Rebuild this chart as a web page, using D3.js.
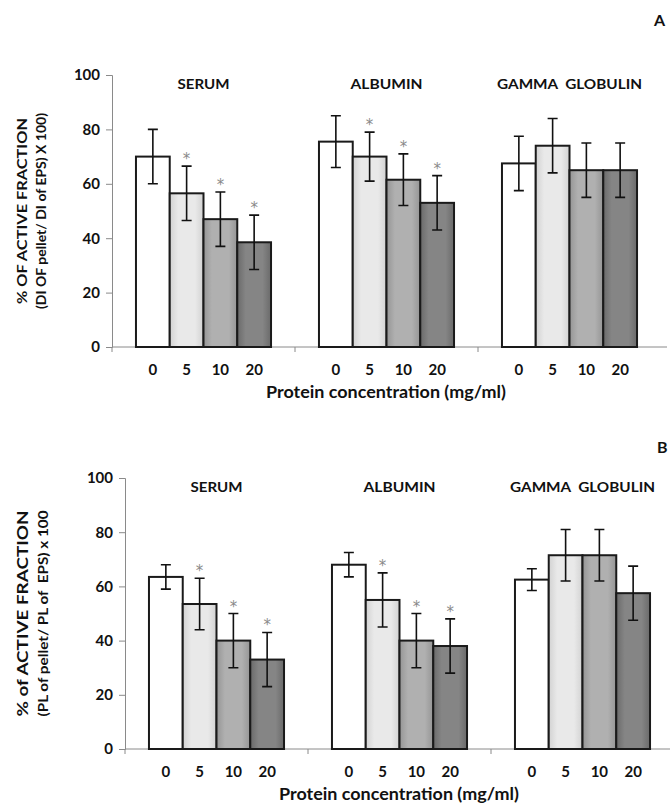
<!DOCTYPE html>
<html>
<head>
<meta charset="utf-8">
<script src="https://cdn.jsdelivr.net/npm/d3@7"></script>
<style>
  body { margin: 0; background: #fff; }
  text { font-family: Lato, "Open Sans", sans-serif; font-weight: bold; fill: #111; white-space: pre; }
</style>
</head>
<body>
<script>
const groups = ["SERUM", "ALBUMIN", "GAMMA  GLOBULIN"];
const concs = ["0", "5", "10", "20"];
const yTicks = [0, 20, 40, 60, 80, 100];
const barFills = ["#ffffff", "url(#g5)", "url(#g10)", "url(#g20)"];
const titleLen = [52, 72, 145];

// panel A - DI
const meansA = [[70, 56.5, 47, 38.5], [75.5, 70, 61.5, 53], [67.5, 74, 65, 65]];
const errA = [[10, 10, 10, 10], [9.5, 9, 9.5, 10], [10, 10, 10, 10]];
const starsA = [[0, 1, 1, 1], [0, 1, 1, 1], [0, 0, 0, 0]];

// panel B - PL
const meansB = [[63.5, 53.5, 40, 33], [68, 55, 40, 38], [62.5, 71.5, 71.5, 57.5]];
const errB = [[4.5, 9.5, 10, 10], [4.5, 10, 10, 10], [4, 9.5, 9.5, 10]];
const starsB = [[0, 1, 1, 1], [0, 1, 1, 1], [0, 0, 0, 0]];

const svg = d3.select("body").append("svg")
    .attr("width", 670)
    .attr("height", 804);

// bar shading
const defs = svg.append("defs");
[["g5", "#d2d2d2", "#e9e9e9"], ["g10", "#959595", "#b0b0b0"], ["g20", "#6a6a6a", "#858585"]].forEach(g => {
    const lg = defs.append("linearGradient").attr("id", g[0]).attr("x1", 0).attr("x2", 1);
    lg.append("stop").attr("offset", "0%").attr("stop-color", g[1]);
    lg.append("stop").attr("offset", "25%").attr("stop-color", g[2]);
    lg.append("stop").attr("offset", "75%").attr("stop-color", g[2]);
    lg.append("stop").attr("offset", "100%").attr("stop-color", g[1]);
});

function drawPanel(p) {
    const x0 = d3.scaleBand().domain(groups).range([p.left, p.left + 549]);
    const x1 = d3.scaleBand().domain(concs).range([0, x0.bandwidth()]).paddingOuter(0.71);
    const y = d3.scaleLinear().domain([0, 100]).range([p.bottom, p.top]);

    const g = svg.append("g");

    // y axis
    const ya = g.append("g").attr("transform", `translate(${p.left},0)`)
        .call(d3.axisLeft(y).tickValues(yTicks).tickSize(6).tickPadding(6));
    ya.selectAll("path, line").attr("stroke", "#8a8a8a");
    ya.selectAll("text").style("font-size", "15px");

    // group ticks on x axis
    const xa = g.append("g").attr("transform", `translate(0,${p.bottom})`);
    xa.append("line").attr("x1", p.left).attr("x2", p.left + 555)
        .attr("stroke", "#8a8a8a");
    xa.selectAll(".gt").data(groups).join("line")
        .attr("x1", d => x0(d)).attr("x2", d => x0(d))
        .attr("y1", 0).attr("y2", 5).attr("stroke", "#8a8a8a");

    groups.forEach((grp, gi) => {
        const gx = x0(grp);
        const rows = concs.map((c, i) => ({ c, i, v: p.means[gi][i], e: p.err[gi][i], s: p.stars[gi][i] }));

        g.selectAll(null).data(rows).join("rect")
            .attr("x", d => gx + x1(d.c))
            .attr("y", d => y(d.v))
            .attr("width", x1.bandwidth())
            .attr("height", d => y(0) - y(d.v))
            .attr("fill", d => barFills[d.i])
            .attr("stroke", "#1a1a1a")
            .attr("stroke-width", 2);

        const cx = d => gx + x1(d.c) + x1.bandwidth() / 2;
        g.selectAll(null).data(rows).join("path")
            .attr("d", d => `M${cx(d)},${y(d.v + d.e)}V${y(d.v - d.e)}` +
                `M${cx(d) - 5},${y(d.v + d.e)}h10M${cx(d) - 5},${y(d.v - d.e)}h10`)
            .attr("stroke", "#111").attr("stroke-width", 1.6).attr("fill", "none");

        // significance marks
        g.selectAll(null).data(rows.filter(d => d.s)).join("text")
            .attr("x", cx)
            .attr("y", d => y(d.v + d.e) - 2)
            .attr("text-anchor", "middle")
            .style("font-family", "'DejaVu Sans', sans-serif")
            .style("font-weight", "normal")
            .style("font-size", "15px")
            .style("fill", "#8a8a8a")
            .text("*");

        g.selectAll(null).data(concs).join("text")
            .attr("x", c => gx + x1(c) + x1.bandwidth() / 2)
            .attr("y", p.bottom + 28)
            .attr("text-anchor", "middle")
            .style("font-size", "15px")
            .text(c => c);

        g.append("text")
            .attr("x", gx + x0.bandwidth() / 2)
            .attr("y", p.top + 14)
            .attr("text-anchor", "middle")
            .attr("textLength", titleLen[gi])
            .attr("lengthAdjust", "spacingAndGlyphs")
            .style("font-size", "14px")
            .text(grp);
    });

    g.append("text")
        .attr("x", p.left + 274)
        .attr("y", p.bottom + 51)
        .attr("text-anchor", "middle")
        .attr("textLength", 240)
        .attr("lengthAdjust", "spacingAndGlyphs")
        .style("font-size", "17px")
        .text("Protein concentration (mg/ml)");

    const mid = (p.top + p.bottom) / 2;
    p.ytitle.forEach((t, i) => {
        g.append("text")
            .attr("transform", `translate(${p.ytx[i]},${mid}) rotate(-90)`)
            .attr("text-anchor", "middle")
            .attr("dy", "0.35em")
            .attr("textLength", p.ytlen[i])
            .attr("lengthAdjust", "spacingAndGlyphs")
            .style("font-size", p.ytsize[i] + "px")
            .text(t);
    });

    g.append("text")
        .attr("x", p.letterX).attr("y", p.letterY)
        .style("font-size", "16px")
        .text(p.letter);
}

drawPanel({
    left: 112, top: 75, bottom: 347,
    means: meansA, err: errA, stars: starsA,
    ytitle: ["% OF ACTIVE FRACTION", "(DI OF pellet/ DI of EPS) X 100)"],
    ytx: [22, 42], ytlen: [186, 196], ytsize: [14, 12.5],
    letter: "A", letterX: 654, letterY: 26
});

drawPanel({
    left: 125, top: 478, bottom: 749,
    means: meansB, err: errB, stars: starsB,
    ytitle: ["% of ACTIVE FRACTION", "(PL of pellet/ PL of  EPS) x 100"],
    ytx: [23, 43], ytlen: [206, 206], ytsize: [15, 14],
    letter: "B", letterX: 657, letterY: 453
});
</script>
</body>
</html>
